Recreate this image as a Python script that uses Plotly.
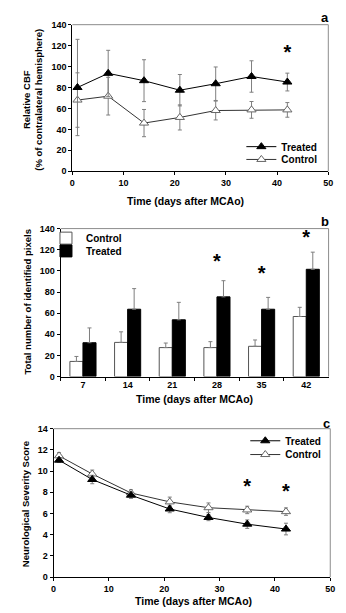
import plotly.graph_objects as go

# ---------------- data ----------------
# Panel a: Relative CBF
a_days = [1, 7, 14, 21, 28, 35, 42]
a_treated = [80, 93.5, 86.5, 77.4, 83.6, 90.5, 85.2]
a_treated_err = [46, 22, 20, 15, 16, 15, 8.5]
a_control = [68, 71.7, 46, 51.4, 58, 58.6, 58.6]
a_control_err = [26, 18, 13, 12, 9, 8, 7]
a_sig_x = [42]
a_sig_y = [112]

# Panel b: Total number of identified pixels
b_days = ["7", "14", "21", "28", "35", "42"]
b_control = [14.3, 32.3, 27.4, 27.4, 28.6, 56.8]
b_control_err = [4.7, 10, 4.3, 5.6, 6, 8.7]
b_treated = [32, 63.7, 53.7, 75.4, 63.7, 101.5]
b_treated_err = [14, 19.5, 16.5, 15.3, 11.2, 16.2]
b_sig_x = ["28", "35", "42"]
b_sig_y = [107, 95.6, 129.8]

# Panel c: Neurological Severity Score
c_days = [1, 7, 14, 21, 28, 35, 42]
c_treated = [11.03, 9.21, 7.73, 6.43, 5.63, 5.0, 4.54]
c_treated_err = [0.2, 0.4, 0.3, 0.35, 0.3, 0.4, 0.55]
c_control = [11.44, 9.73, 7.94, 7.1, 6.55, 6.34, 6.18]
c_control_err = [0.3, 0.37, 0.3, 0.45, 0.45, 0.35, 0.35]
c_sig_x = [35, 42]
c_sig_y = [8.4, 7.97]

W, H = 346, 613
FONT = "Liberation Sans, Arial, sans-serif"
ERRC = "#7f7f7f"

def px(x):
    return x / W

def py(y):
    return 1 - y / H

fig = go.Figure()

def line_pair(xs, tr, tre, co, coe, xa, ya, leg_t, leg_c):
    fig.add_trace(go.Scatter(
        x=xs, y=co, name="Control", mode="lines+markers",
        line=dict(color="#333333", width=1),
        marker=dict(symbol="triangle-up", size=8, color="white",
                    line=dict(color="#666666", width=1)),
        error_y=dict(type="data", array=coe, color=ERRC, thickness=1, width=2),
        xaxis=xa, yaxis=ya, legend=leg_c))
    fig.add_trace(go.Scatter(
        x=xs, y=tr, name="Treated", mode="lines+markers",
        line=dict(color="black", width=1),
        marker=dict(symbol="triangle-up", size=8, color="black",
                    line=dict(color="black", width=1)),
        error_y=dict(type="data", array=tre, color=ERRC, thickness=1, width=2),
        xaxis=xa, yaxis=ya, legend=leg_t))

def stars(xs, ys, xa, ya):
    fig.add_trace(go.Scatter(
        x=xs, y=ys, mode="text", text=["*"] * len(xs),
        textfont=dict(family=FONT, size=20, color="black", weight="bold"),
        textposition="middle center", showlegend=False, hoverinfo="skip",
        xaxis=xa, yaxis=ya))

# Panel a
line_pair(a_days, a_treated, a_treated_err, a_control, a_control_err,
          "x", "y", "legend", "legend2")
stars(a_sig_x, a_sig_y, "x", "y")

# Panel b
fig.add_trace(go.Bar(
    x=b_days, y=b_control, name="Control",
    marker=dict(color="white", line=dict(color="#555555", width=1)),
    error_y=dict(type="data", array=b_control_err, arrayminus=[0] * len(b_days),
                 symmetric=False, color=ERRC, thickness=1, width=2),
    xaxis="x2", yaxis="y2", legend="legend3"))
fig.add_trace(go.Bar(
    x=b_days, y=b_treated, name="Treated",
    marker=dict(color="black", line=dict(color="black", width=1)),
    error_y=dict(type="data", array=b_treated_err, arrayminus=[0] * len(b_days),
                 symmetric=False, color=ERRC, thickness=1, width=2),
    xaxis="x2", yaxis="y2", legend="legend4"))
stars(b_sig_x, b_sig_y, "x2", "y2")

# Panel c
line_pair(c_days, c_treated, c_treated_err, c_control, c_control_err,
          "x3", "y3", "legend5", "legend6")
stars(c_sig_x, c_sig_y, "x3", "y3")

tickf = dict(family=FONT, size=9, color="black", weight="bold")
axcommon = dict(showline=True, linecolor="black", linewidth=1, ticks="outside",
                ticklen=3, tickcolor="black", tickwidth=1, showgrid=False,
                zeroline=False, tickfont=tickf)

dom_a = dict(x=[px(71), px(333)], y=[py(169), py(20)])
dom_b = dict(x=[px(59), px(333.3)], y=[py(377.7), py(227.3)])
dom_c = dict(x=[px(51.7), px(335)], y=[py(581.7), py(430.7)])

def legend_box(x, y):
    return dict(x=px(x), y=py(y), xanchor="left", yanchor="middle",
                font=dict(family=FONT, size=10, color="black", weight="bold"),
                bgcolor="rgba(0,0,0,0)", borderwidth=0, itemwidth=30,
                tracegroupgap=0)

fig.update_layout(
    width=W, height=H, margin=dict(l=0, r=0, t=0, b=0),
    paper_bgcolor="white", plot_bgcolor="white",
    font=dict(family=FONT, color="black", weight="bold"),
    barmode="group", bargap=0.415, bargroupgap=0,
    xaxis=dict(domain=dom_a["x"], range=[0, 50], dtick=10, anchor="y", **axcommon),
    yaxis=dict(domain=dom_a["y"], range=[0, 140], dtick=20, anchor="x", **axcommon),
    xaxis2=dict(domain=dom_b["x"], range=[-0.5, 5.5], type="category",
                tickson="boundaries", anchor="y2", **axcommon),
    yaxis2=dict(domain=dom_b["y"], range=[0, 140], dtick=20, anchor="x2", **axcommon),
    xaxis3=dict(domain=dom_c["x"], range=[0, 50], dtick=10, anchor="y3", **axcommon),
    yaxis3=dict(domain=dom_c["y"], range=[0, 14], dtick=2, anchor="x3", **axcommon),
    legend=legend_box(244, 144),
    legend2=legend_box(244, 157),
    legend3=legend_box(44, 237),
    legend4=legend_box(44, 250),
    legend5=legend_box(248, 443),
    legend6=legend_box(248, 457),
)

# top / right frame lines (lighter grey)
for xa, ya in [("x", "y"), ("x2", "y2"), ("x3", "y3")]:
    fig.add_shape(type="line", xref=xa + " domain", yref=ya + " domain",
                  x0=0, x1=1, y0=1, y1=1, line=dict(color="#8c8c8c", width=1))
    fig.add_shape(type="line", xref=xa + " domain", yref=ya + " domain",
                  x0=1, x1=1, y0=0, y1=1, line=dict(color="#8c8c8c", width=1))

def ann(text, x, y, size, angle=0):
    fig.add_annotation(text=text, x=px(x), y=py(y), xref="paper", yref="paper",
                       showarrow=False, textangle=angle, xanchor="center",
                       yanchor="middle",
                       font=dict(family=FONT, size=size, color="black", weight="bold"))

xt = "Time (days after MCAo)"
ann(xt, 187, 199, 10.5)
ann(xt, 196, 401, 10.5)
ann(xt, 195, 606, 10.5)
ann("Relative CBF<br>(% of contralateral hemisphere)", 30, 96, 9.5, -90)
ann("Total number of identified pixels", 25, 301, 9.5, -90)
ann("Neurological Severity Score", 23, 507, 9.5, -90)
ann("a", 330, 13, 13)
ann("b", 330, 220, 13)
ann("c", 331, 425, 13)

fig.write_html("out.html", config={"displayModeBar": False},
               post_script="document.body.style.margin='0';document.body.style.padding='0';")
